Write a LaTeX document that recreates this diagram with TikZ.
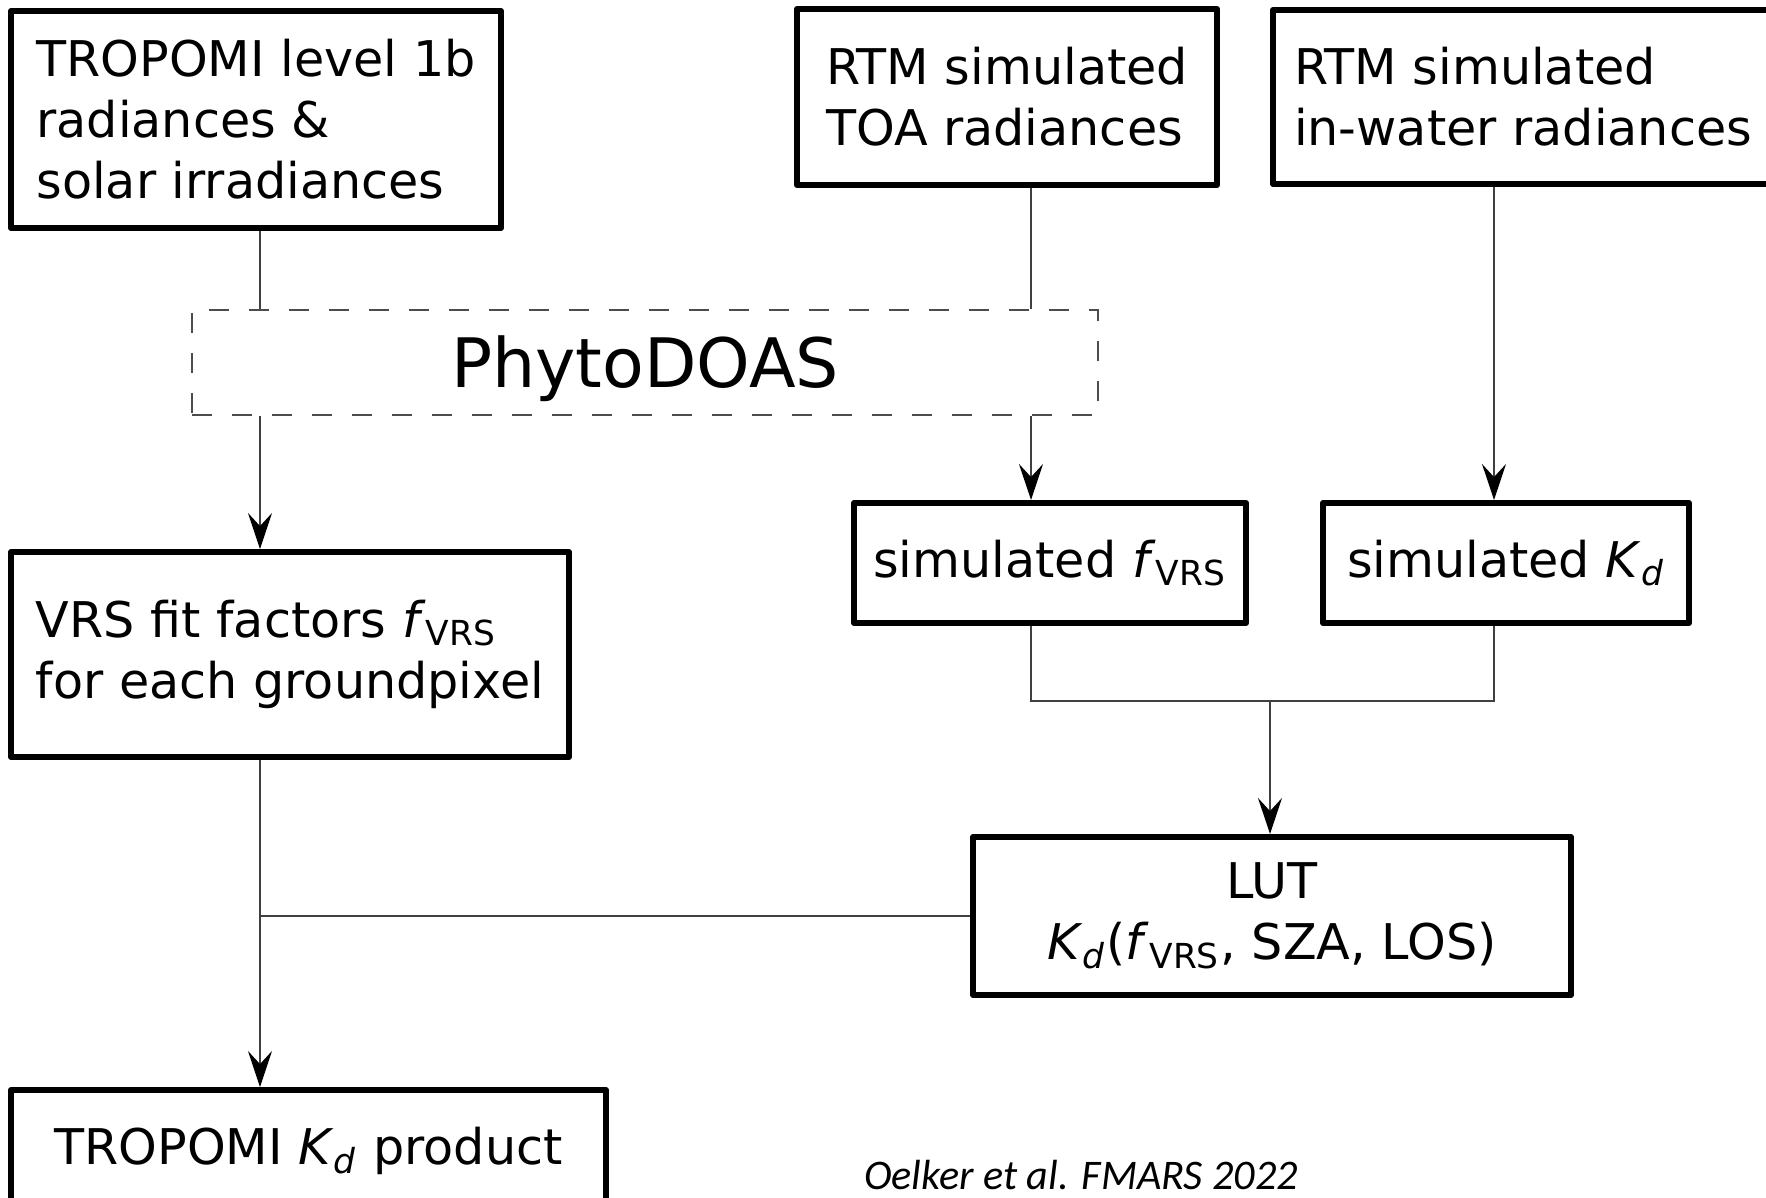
\documentclass[tikz,border=0pt]{standalone}
\usepackage{fontspec}
\setmainfont{DejaVu Sans}
\newfontfamily\zitatfont{Carlito}
\usetikzlibrary{arrows.meta}
\newcommand{\fvrs}{\textit{f}\textsubscript{VRS}}
\newcommand{\kd}{\textit{K}\textsubscript{\textit{d}}}

\begin{document}
\begin{tikzpicture}[x=0.1mm, y=-0.1mm,
			>={Stealth[length=3.6mm, width=2.4mm, inset=1.3mm, color=black]},   %Pfeilspitzen
			box/.style={draw, line width=1.7pt, line join=round, inner sep=0pt, align=left,
				font=\fontsize{14}{17.4}\selectfont},
			dbox/.style={draw=black!70, line width=0.6pt, dash pattern=on 2mm off 2mm, inner sep=0pt},
			verb/.style={draw=black!75, line width=0.6pt}]
			%Bildbereich
			\useasboundingbox (0,0) rectangle (1766,1197);
			\clip (0,0) rectangle (1766,1197);
			% Eingaben oben
			\node[box, minimum width=49mm, minimum height=21.7mm] (trop) at (256,119.5) {TROPOMI level 1b\\radiances \&\\solar irradiances};
			\node[box, minimum width=42mm, minimum height=17.6mm] (toa) at (1007,97) {RTM simulated\\TOA radiances};
			\node[box, minimum width=50mm, minimum height=17.4mm] (water) at (1523,97) {RTM simulated\\in-water radiances};
			% Retrieval
			\node[dbox, minimum width=90.6mm, minimum height=10.5mm, text height=14.1pt, text depth=0pt,
				font=\fontsize{19.4}{23}\selectfont] (phyto) at (645,362.5) {PhytoDOAS};
			% Zwischenschritte
			\node[box, minimum width=39.2mm, minimum height=12mm] (sf) at (1050,563) {simulated \fvrs};
			\node[box, minimum width=36.6mm, minimum height=12mm] (sk) at (1506,563) {simulated \kd};
			\node[box, minimum width=55.8mm, minimum height=20.5mm] (vrs) at (290,654.5) {VRS fit factors \fvrs\\for each groundpixel};
			\node[box, align=center, minimum width=59.8mm, minimum height=15.8mm] (lut) at (1272,916) {LUT\\\kd(\fvrs, SZA, LOS)};
			\node[box, minimum width=59.5mm, minimum height=12.2mm] (prod) at (308.5,1151) {TROPOMI \kd{} product};
			% Spalten der Verbindungen
			\coordinate (links) at (260,0);
			\coordinate (mitte) at (1031,0);
			\coordinate (rechts) at (1494,0);
			\coordinate (knoten) at (1270,700.6);
			% Verbindungen links
			\draw[verb] (trop.south -| links) -- (phyto.north -| links);
			\draw[verb,->] (phyto.south -| links) -- (vrs.north -| links);
			\draw[verb,->] (vrs.south -| links) -- (prod.north -| links);
			\draw[verb] (lut.west) -- (lut.west -| links);
			% Verbindungen rechts
			\draw[verb] (toa.south -| mitte) -- (phyto.north -| mitte);
			\draw[verb,->] (phyto.south -| mitte) -- (sf.north -| mitte);
			\draw[verb,->] (water.south -| rechts) -- (sk.north -| rechts);
			\draw[verb] (sf.south -| mitte) |- (knoten) -| (sk.south -| rechts);
			\draw[verb,->] (knoten) -- (lut.north -| knoten);
			%Quelle
			\node[anchor=base, font=\zitatfont\itshape\fontsize{12}{14}\selectfont] (zitat) at (1081,1189) {Oelker et al. FMARS 2022};
		\end{tikzpicture}
\end{document}
